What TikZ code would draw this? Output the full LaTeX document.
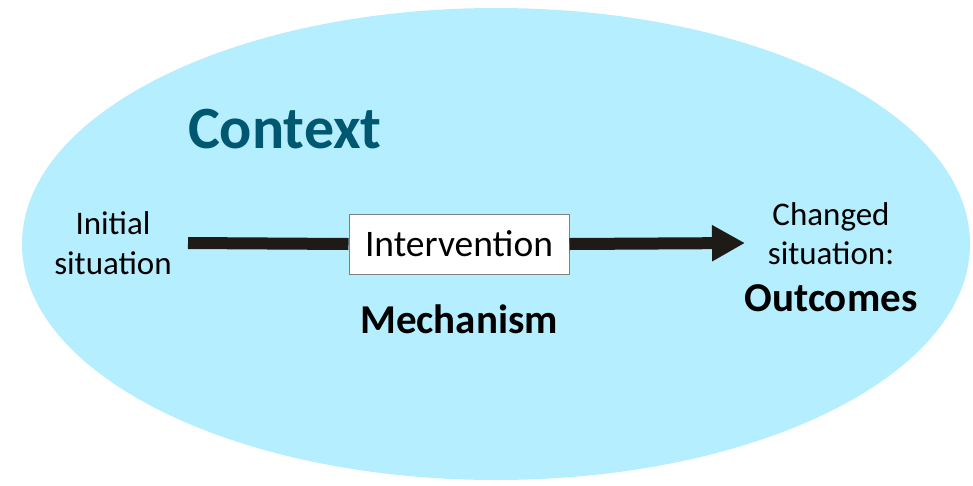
\documentclass[tikz,border=0pt]{standalone}
\usepackage{fontspec}
\setmainfont{Carlito}
\usetikzlibrary{arrows.meta}
\definecolor{ctxfill}{RGB}{181,238,254}
\definecolor{ctxtext}{RGB}{0,88,112}
\definecolor{flow}{RGB}{30,26,22}
\definecolor{boxline}{RGB}{128,128,128}
\tikzset{
  label33/.style={inner sep=0pt, align=center, font=\fontsize{33}{40}\selectfont},
  boldlabel/.style={inner sep=0pt, font=\fontsize{41}{48}\selectfont\bfseries},
  interbox/.style={draw=boxline, line width=1pt, fill=white, minimum width=220pt,
    minimum height=60pt, inner sep=0pt, font=\fontsize{37.5}{44}\selectfont},
  flowline/.style={draw=flow, line width=12pt},
}
\begin{document}
\begin{tikzpicture}[x=1pt, y=-1pt]
  \useasboundingbox (0,0) rectangle (973,485);
  % context ellipse
  \fill[ctxfill] (496,244) ellipse [x radius=474, y radius=236];
  \node[anchor=base west, inner sep=0pt, text=ctxtext,
        font=\fontsize{60}{70}\selectfont\bfseries] (context) at (188,148) {Context};
  % situations
  \node[label33] (init) at (113,243) {Initial\\situation};
  \node[label33, anchor=base] (changed) at (831,225) {Changed};
  \node[label33, anchor=base] (situation) at (831,264) {situation:};
  \node[boldlabel, anchor=base] (outcomes) at (831,311) {Outcomes};
  % intervention and mechanism
  \node[interbox] (box) at (459,244) {Intervention};
  \node[boldlabel, anchor=base] (mechanism) at (459,333) {Mechanism};
  % flow arrow
  \coordinate (start) at (188,243);
  \coordinate (tip) at (745,243);
  \draw[flowline] (start) -- (box.west);
  \draw[flowline, -{Triangle[length=33pt, width=34pt]}] (box.east) -- (tip);
\end{tikzpicture}
\end{document}
